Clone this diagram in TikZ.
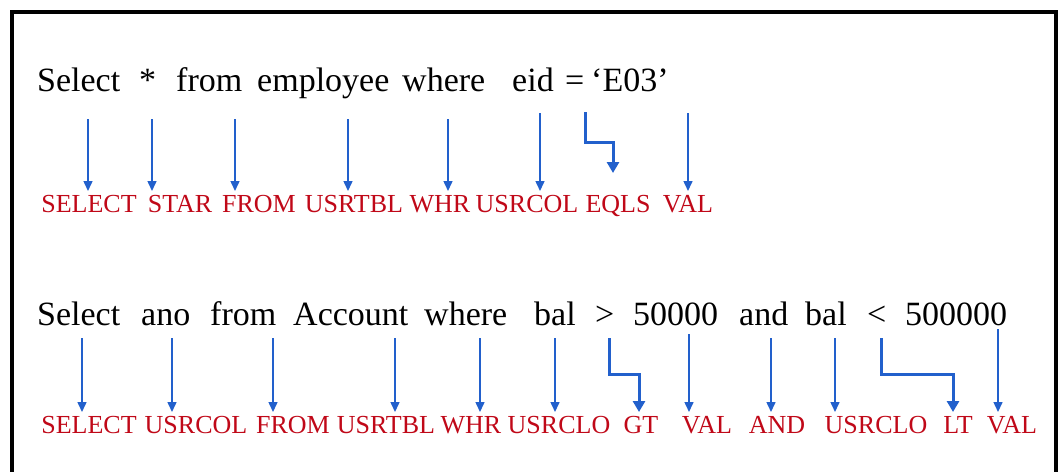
\documentclass[tikz,border=0pt]{standalone}
\usepackage{fontspec}
\setmainfont{Liberation Serif}
\usetikzlibrary{arrows.meta,positioning,calc}
\definecolor{tokred}{RGB}{192,8,24}
\definecolor{tokblue}{RGB}{34,96,204}

\begin{document}
\begin{tikzpicture}[
    x=1pt, y=-1pt,
    word/.style={inner sep=0pt, anchor=base west, font=\fontsize{34}{40}\selectfont},
    token/.style={inner sep=0pt, outer ysep=4pt, anchor=base, text height=17pt, text depth=0pt, text=tokred, font=\fontsize{26}{31}\selectfont},
    tok/.style={-{Triangle[length=10pt, width=9pt]}, color=tokblue, line width=1.5pt},
    jog/.style={-{Triangle[length=11pt, width=12pt]}, color=tokblue, line width=3pt},
    frame/.style={draw, line width=3.5pt}
]
\useasboundingbox (0,0) rectangle (1064,471);
\clip (0,0) rectangle (1064,471);
\draw[frame] (12,12) rectangle (1056,520);

% first query and its tokens
\foreach \w/\x [count=\i] in {Select/37, */139, from/176, employee/257, where/402, eid/512, =/565, `E03'/591}
  \node[word] (s\i) at (\x,91) {\w};
\foreach \t/\x [count=\i] in {SELECT/89, STAR/180, FROM/259, USRTBL/354, WHR/440, USRCOL/527, EQLS/618, VAL/688}
  \node[token] (r\i) at (\x,212) {\t};

\foreach \i/\dx/\dy in {1/51/28, 2/13/28, 3/59/28, 4/91/28, 5/46/28, 6/28/22, 8/97/22}
  \draw[tok] ($(s\i.base west)+(\dx,\dy)$) coordinate (a) -- (a |- r\i.north);
\draw[jog, shorten >=18pt] ($(s7.base west)+(20,21)$) -- ++(0,30) -| ([xshift=-5pt]r7.north);

% second query and its tokens
\foreach \w/\x [count=\i] in {Select/37, ano/141, from/210, Account/293, where/424, bal/534, >/595, 50000/633, and/739, bal/805, </867, 500000/905}
  \node[word] (u\i) at (\x,325) {\w};
\foreach \t/\x [count=\i] in {SELECT/89, USRCOL/196, FROM/293, USRTBL/386, WHR/471, USRCLO/559, GT/641, VAL/707, AND/777, USRCLO/876, LT/958, VAL/1012}
  \node[token] (q\i) at (\x,433) {\t};

\foreach \i/\dx/\dy in {1/45/13, 2/31/13, 3/63/13, 4/102/13, 5/56/13, 6/21/13, 8/56/9, 9/32/13, 10/30/13, 12/93/4}
  \draw[tok] ($(u\i.base west)+(\dx,\dy)$) coordinate (a) -- (a |- q\i.north);
\draw[jog] ($(u7.base west)+(14,13)$) -- ++(0,36) -| ([xshift=-2pt]q7.north);
\draw[jog] ($(u11.base west)+(14,13)$) -- ++(0,36) -| ([xshift=-5pt]q11.north);
\end{tikzpicture}
\end{document}
